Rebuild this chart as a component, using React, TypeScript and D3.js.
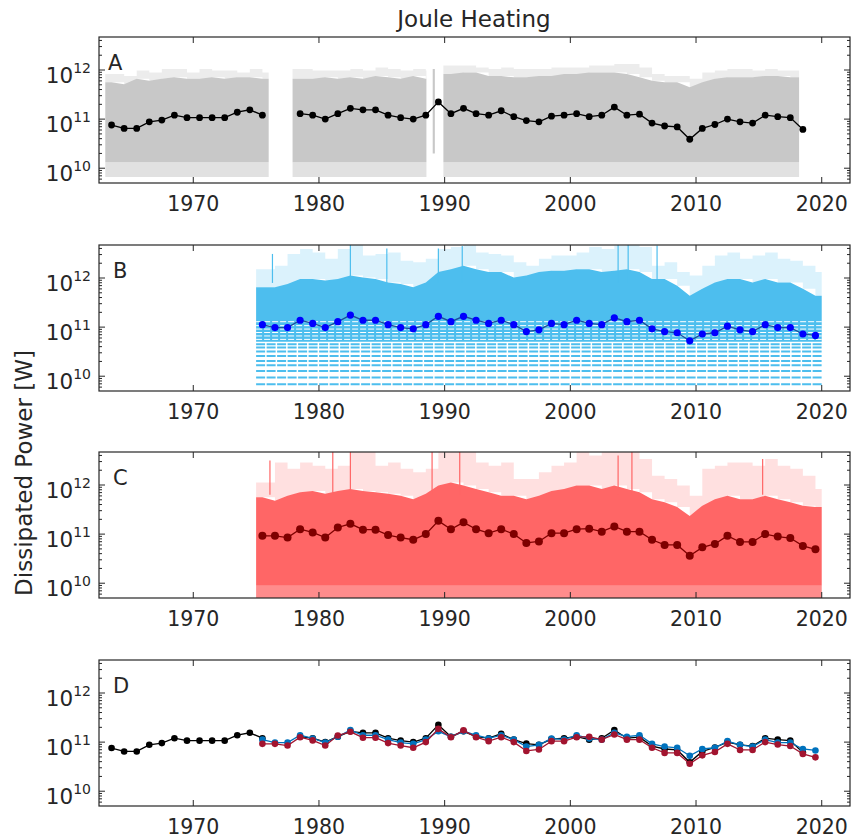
import React from 'react';
import * as d3 from 'd3';

// ---------- text ----------
const TITLE = 'Joule Heating';
const Y_LABEL = 'Dissipated Power [W]';
const PANEL_LETTERS = ['A', 'B', 'C', 'D'];
const X_TICKS = [1970, 1980, 1990, 2000, 2010, 2020];
const Y_TICK_EXPONENTS = [10, 11, 12];

// ---------- annual means (log10 of W) ----------
const yearsA = [1963, 1964, 1965, 1966, 1967, 1968, 1969, 1970, 1971, 1972, 1973, 1974, 1975,
  1978, 1979, 1980, 1981, 1982, 1983, 1984, 1985, 1986, 1987, 1988, 1989, 1990, 1991, 1992, 1993,
  1994, 1995, 1996, 1997, 1998, 1999, 2000, 2001, 2002, 2003, 2004, 2005, 2006, 2007, 2008, 2009,
  2010, 2011, 2012, 2013, 2014, 2015, 2016, 2017, 2018];
const logMeanA = [10.88, 10.81, 10.81, 10.945, 10.98, 11.08, 11.03, 11.03, 11.03, 11.03, 11.14, 11.19, 11.08,
  11.11, 11.08, 11.0, 11.11, 11.22, 11.19, 11.19, 11.08, 11.03, 11.0, 11.08, 11.35, 11.11, 11.22, 11.11, 11.08,
  11.17, 11.05, 10.97, 10.945, 11.06, 11.08, 11.11, 11.05, 11.08, 11.245, 11.08, 11.1, 10.92, 10.86, 10.84, 10.59,
  10.81, 10.89, 11.0, 10.945, 10.92, 11.08, 11.05, 11.03, 10.79];

const yearsBC = [1975, 1976, 1977, 1978, 1979, 1980, 1981, 1982, 1983, 1984, 1985, 1986, 1987, 1988, 1989,
  1990, 1991, 1992, 1993, 1994, 1995, 1996, 1997, 1998, 1999, 2000, 2001, 2002, 2003, 2004, 2005, 2006,
  2007, 2008, 2009, 2010, 2011, 2012, 2013, 2014, 2015, 2016, 2017, 2018, 2019];
const logMeanB = [11.05, 10.99, 10.99, 11.14, 11.075, 10.99, 11.11, 11.245, 11.14, 11.14, 11.05, 10.99, 10.965, 11.05, 11.22,
  11.11, 11.22, 11.14, 11.075, 11.14, 11.05, 10.91, 10.945, 11.075, 11.05, 11.14, 11.075, 11.05, 11.19, 11.11, 11.14, 10.965,
  10.91, 10.885, 10.72, 10.86, 10.885, 11.02, 10.945, 10.91, 11.05, 10.99, 10.99, 10.86, 10.83];
const logMeanC = [10.965, 10.965, 10.93, 11.1, 11.035, 10.93, 11.135, 11.21, 11.09, 11.09, 10.98, 10.93, 10.885, 11.0, 11.27,
  11.1, 11.24, 11.1, 11.02, 11.1, 11.0, 10.82, 10.85, 11.02, 11.02, 11.1, 11.11, 11.05, 11.155, 11.05, 11.05, 10.885,
  10.78, 10.78, 10.56, 10.73, 10.8, 10.965, 10.84, 10.84, 11.0, 10.95, 10.92, 10.76, 10.69];

// ---------- hourly clouds: yearly envelopes (log10 of W) ----------
const cloudYearsA = [1963, 1964, 1965, 1966, 1967, 1968, 1969, 1970, 1971, 1972, 1973, 1974, 1975,
  1978, 1979, 1980, 1981, 1982, 1983, 1984, 1985, 1986, 1987, 1988,
  1990, 1991, 1992, 1993, 1994, 1995, 1996, 1997, 1998, 1999, 2000, 2001, 2002, 2003, 2004, 2005, 2006,
  2007, 2008, 2009, 2010, 2011, 2012, 2013, 2014, 2015, 2016, 2017];
const cloudTopA = [11.75, 11.71, 11.82, 11.78, 11.82, 11.85, 11.82, 11.82, 11.85, 11.82, 11.85, 11.85, 11.82,
  11.82, 11.82, 11.85, 11.82, 11.85, 11.82, 11.88, 11.85, 11.82, 11.88, 11.82,
  11.92, 11.95, 11.95, 11.88, 11.88, 11.85, 11.85, 11.88, 11.88, 11.92, 11.92, 11.95, 11.95, 11.95, 11.92, 11.85, 11.78,
  11.75, 11.75, 11.65, 11.75, 11.82, 11.85, 11.85, 11.85, 11.88, 11.88, 11.85];
const cloudMaxA = [11.92, 11.88, 11.99, 11.95, 12.02, 12.02, 11.95, 12.02, 11.99, 11.99, 11.95, 12.02, 11.95,
  12.02, 11.99, 11.99, 11.99, 12.02, 11.99, 12.05, 12.02, 11.99, 12.02, 11.99,
  12.09, 12.09, 12.05, 12.02, 12.05, 12.02, 12.02, 12.02, 12.05, 12.05, 12.05, 12.09, 12.09, 12.12, 12.12, 12.05, 11.92,
  11.88, 11.88, 11.82, 11.95, 11.99, 12.02, 12.02, 11.99, 12.02, 11.99, 11.99];
const cloudSegmentsA = [[1963.0, 1976.0], [1977.9, 1988.55], [1989.9, 2018.2]];
const cloudSpikeA = [1989.05, 1989.22, 10.3, 12.02];
const cloudFloorA = [10.12, 9.82];

const cloudTopB = [11.81, 11.81, 11.88, 11.98, 11.98, 11.95, 11.98, 12.05, 12.01, 11.98, 11.91, 11.88, 11.81, 11.91, 12.12,
  12.18, 12.25, 12.18, 12.12, 12.12, 12.01, 12.05, 12.12, 12.15, 12.15, 12.18, 12.18, 12.12, 12.15, 12.18, 12.12, 11.98,
  11.98, 11.84, 11.64, 11.78, 11.91, 11.98, 11.98, 11.91, 11.98, 11.91, 11.91, 11.78, 11.64];
const cloudMaxB = [12.18, 12.25, 12.49, 12.59, 12.52, 12.39, 12.59, 12.69, 12.46, 12.49, 12.52, 12.35, 12.32, 12.39, 12.59,
  12.63, 12.69, 12.52, 12.49, 12.46, 12.32, 12.25, 12.39, 12.46, 12.46, 12.52, 12.63, 12.59, 12.66, 12.69, 12.63, 12.25,
  12.32, 12.12, 12.05, 12.25, 12.46, 12.52, 12.39, 12.46, 12.52, 12.39, 12.35, 12.25, 12.12];
const cloudTopC = [11.75, 11.68, 11.78, 11.85, 11.88, 11.82, 11.88, 11.92, 11.88, 11.85, 11.82, 11.78, 11.71, 11.82, 11.99,
  12.05, 11.99, 11.92, 11.85, 11.78, 11.78, 11.71, 11.78, 11.88, 11.92, 11.99, 11.99, 11.92, 11.99, 11.92, 11.85, 11.71,
  11.65, 11.55, 11.37, 11.58, 11.71, 11.78, 11.71, 11.71, 11.78, 11.71, 11.65, 11.58, 11.55];
const cloudMaxC = [12.05, 12.46, 12.33, 12.46, 12.39, 12.33, 12.39, 12.67, 12.67, 12.39, 12.46, 12.33, 12.26, 12.33, 12.67,
  12.67, 12.67, 12.46, 12.39, 12.46, 12.12, 12.12, 12.26, 12.39, 12.46, 12.67, 12.6, 12.67, 12.67, 12.67, 12.53, 12.19,
  12.12, 11.99, 11.78, 12.33, 12.39, 12.46, 12.46, 12.39, 12.53, 12.39, 12.33, 12.19, 11.92];
const cloudSegmentBC = [1975.0, 2020.0];
const cloudFloorB = 10.7;
const cloudFloorC = [9.95, 9.7];
const quantLevelsB = [10.653, 10.586, 10.504, 10.414, 10.312, 10.224, 10.108, 9.973, 9.837];
const gapLevelsB = [11.11, 11.03, 10.96, 10.89, 10.82, 10.75];
const spikesB = [[1976.3, 12.49], [1982.5, 12.7], [1985.4, 12.6], [1989.5, 12.6], [1991.4, 12.65], [2003.8, 12.7], [2004.6, 12.69], [2006.9, 12.66]];
const spikesC = [[1976.1, 12.5], [1981.1, 12.67], [1982.5, 12.67], [1989.0, 12.67], [1991.2, 12.67], [2003.8, 12.6], [2004.9, 12.67], [2015.3, 12.53]];

// ---------- layout ----------
const W = 854, H = 839;
const LEFT = 99, RIGHT = 850, PANEL_H = 146;
const PANEL_TOP = [37, 245, 452, 660];
const X_DOMAIN = [1962.5, 2022.25];
const Y_DOMAIN = [5e9, 4.7e12];
const INK = '#262626';
const FONT = 'DejaVu Sans, sans-serif';

const x = d3.scaleLinear().domain(X_DOMAIN).range([LEFT, RIGHT]);
const yFor = (top: number) => d3.scaleLog().domain(Y_DOMAIN).range([top + PANEL_H, top]);
const p10 = (e: number) => Math.pow(10, e);

type Pt = { t: number; lo: number; hi: number };
function segPoints(years: number[], lo: (i: number) => number, hi: (i: number) => number, seg: number[]): Pt[] {
  const pts: Pt[] = [];
  years.forEach((yr, i) => {
    const t = yr + 0.5;
    if (t > seg[0] && t < seg[1]) pts.push({ t, lo: lo(i), hi: hi(i) });
  });
  if (!pts.length) return pts;
  return [{ ...pts[0], t: seg[0] }, ...pts, { ...pts[pts.length - 1], t: seg[1] }];
}

function runs(years: number[], vals: number[]) {
  const out: { t: number; v: number }[][] = [];
  let cur: { t: number; v: number }[] = [];
  years.forEach((yr, i) => {
    if (cur.length && yr - years[i - 1] > 1) { out.push(cur); cur = []; }
    cur.push({ t: yr + 0.5, v: vals[i] });
  });
  if (cur.length) out.push(cur);
  return out;
}

function Series({ y, years, vals, color, lineColor, r, width = 1.3 }: any) {
  const line = d3.line<{ t: number; v: number }>().x(d => x(d.t)).y(d => y(p10(d.v)));
  return (
    <g>
      {runs(years, vals).map((run, i) => (
        <path key={i} d={line(run) || ''} fill="none" stroke={lineColor} strokeWidth={width} />
      ))}
      {years.map((yr: number, i: number) => (
        <circle key={yr} cx={x(yr + 0.5)} cy={y(p10(vals[i]))} r={r} fill={color} />
      ))}
    </g>
  );
}

function Cloud({ y, years, top, max, segs, floor, color, floorMin, sparse = 0.25, lowerOpacity = 0.6 }: any) {
  const area = d3.area<Pt>().x(d => x(d.t)).y0(d => y(p10(d.lo))).y1(d => y(p10(d.hi)));
  const out: any[] = [];
  segs.forEach((seg: number[], k: number) => {
    const dense = segPoints(years, () => floor, i => top[i], seg);
    const upper = segPoints(years, i => top[i], i => max[i], seg);
    out.push(<path key={'u' + k} d={area.curve(d3.curveStepAfter)(upper) || ''} fill={color} opacity={sparse} />);
    if (floorMin !== undefined) {
      const lower = segPoints(years, () => floorMin, () => floor, seg);
      out.push(<path key={'l' + k} d={area.curve(d3.curveLinear)(lower) || ''} fill={color} opacity={lowerOpacity} />);
    }
    out.push(<path key={'d' + k} d={area.curve(d3.curveLinear)(dense) || ''} fill={color} />);
  });
  return <g>{out}</g>;
}

function Axes({ top, letter }: { top: number; letter: string }) {
  const y = yFor(top);
  const bottom = top + PANEL_H;
  const minor: number[] = [];
  for (let e = 9; e <= 12; e++) for (let m = 2; m <= 9; m++) {
    const v = m * p10(e);
    if (v > Y_DOMAIN[0] && v < Y_DOMAIN[1]) minor.push(v);
  }
  return (
    <g stroke={INK} strokeWidth={1}>
      <rect x={LEFT} y={top} width={RIGHT - LEFT} height={PANEL_H} fill="none" strokeWidth={1.2} />
      {X_TICKS.map(t => (
        <g key={t}>
          <line x1={x(t)} x2={x(t)} y1={bottom} y2={bottom - 6} />
          <line x1={x(t)} x2={x(t)} y1={top} y2={top + 6} />
          <text x={x(t)} y={bottom + 28} textAnchor="middle" fill={INK} stroke="none" fontSize={20.5} fontFamily={FONT}>{t}</text>
        </g>
      ))}
      {Y_TICK_EXPONENTS.map(e => (
        <g key={e}>
          <line x1={LEFT} x2={LEFT + 6} y1={y(p10(e))} y2={y(p10(e))} />
          <line x1={RIGHT} x2={RIGHT - 6} y1={y(p10(e))} y2={y(p10(e))} />
          <text x={91} y={y(p10(e)) + 13} textAnchor="end" fill={INK} stroke="none" fontFamily={FONT} fontSize={21.5}>
            10<tspan dy={-10.5} fontSize={14}>{e}</tspan>
          </text>
        </g>
      ))}
      {minor.map(v => (
        <g key={v}>
          <line x1={LEFT} x2={LEFT + 3} y1={y(v)} y2={y(v)} />
          <line x1={RIGHT} x2={RIGHT - 3} y1={y(v)} y2={y(v)} />
        </g>
      ))}
      <text x={letter === 'A' ? 108 : 113} y={top + 33} fill={INK} stroke="none" fontFamily={FONT} fontSize={21}>{letter}</text>
    </g>
  );
}

export default function App() {
  const yA = yFor(PANEL_TOP[0]);
  const yB = yFor(PANEL_TOP[1]);
  const yC = yFor(PANEL_TOP[2]);
  const yD = yFor(PANEL_TOP[3]);
  const xs = x(cloudSegmentBC[0]), xe = x(cloudSegmentBC[1]);
  return (
    <svg width={W} height={H} style={{ position: 'absolute', left: 0, top: 0, display: 'block', background: '#fff' }}>
      <defs>
        {PANEL_TOP.map((t, i) => (
          <clipPath key={i} id={'clip' + i}><rect x={LEFT} y={t} width={RIGHT - LEFT} height={PANEL_H} /></clipPath>
        ))}
      </defs>
      <text x={474} y={26.5} textAnchor="middle" fontFamily={FONT} fontSize={23} fill={INK}>{TITLE}</text>
      <text transform="translate(32,473) rotate(-90)" textAnchor="middle" fontFamily={FONT} fontSize={23} fill={INK}>{Y_LABEL}</text>

      {/* Panel A */}
      <g clipPath="url(#clip0)">
        <Cloud y={yA} years={cloudYearsA} top={cloudTopA} max={cloudMaxA} segs={cloudSegmentsA}
          floor={cloudFloorA[0]} floorMin={cloudFloorA[1]} color="#c8c8c8" sparse={0.35} lowerOpacity={0.55} />
        <rect x={x(cloudSpikeA[0])} width={x(cloudSpikeA[1]) - x(cloudSpikeA[0])}
          y={yA(p10(cloudSpikeA[3]))} height={yA(p10(cloudSpikeA[2])) - yA(p10(cloudSpikeA[3]))} fill="#c8c8c8" />
        <Series y={yA} years={yearsA} vals={logMeanA} color="#000" lineColor="#000" r={3.4} />
      </g>

      {/* Panel B */}
      <g clipPath="url(#clip1)">
        <Cloud y={yB} years={yearsBC} top={cloudTopB} max={cloudMaxB} segs={[cloudSegmentBC]}
          floor={cloudFloorB} color="#4dbeee" sparse={0.2} />
        {spikesB.map((s, i) => (
          <line key={i} x1={x(s[0])} x2={x(s[0])} y1={yB(p10(s[1]))} y2={yB(p10(11.9))} stroke="#4dbeee" strokeWidth={1.2} />
        ))}
        {gapLevelsB.map(l => (
          <line key={l} x1={xs} x2={xe} y1={yB(p10(l))} y2={yB(p10(l))} stroke="#fff" strokeWidth={1} strokeDasharray="6 2" />
        ))}
        {quantLevelsB.map(l => (
          <line key={l} x1={xs} x2={xe} y1={yB(p10(l))} y2={yB(p10(l))} stroke="#4dbeee" strokeWidth={2} strokeDasharray="9 1.5" />
        ))}
        <Series y={yB} years={yearsBC} vals={logMeanB} color="#0000ff" lineColor="#1d4e9a" r={3.6} />
      </g>

      {/* Panel C */}
      <g clipPath="url(#clip2)">
        <Cloud y={yC} years={yearsBC} top={cloudTopC} max={cloudMaxC} segs={[cloudSegmentBC]}
          floor={cloudFloorC[0]} floorMin={cloudFloorC[1]} color="#ff6666" sparse={0.2} lowerOpacity={0.75} />
        {spikesC.map((s, i) => (
          <line key={i} x1={x(s[0])} x2={x(s[0])} y1={yC(p10(s[1]))} y2={yC(p10(11.8))} stroke="#ff6666" strokeWidth={1.2} />
        ))}
        <Series y={yC} years={yearsBC} vals={logMeanC} color="#7f0000" lineColor="#7f0000" r={4} />
      </g>

      {/* Panel D */}
      <g clipPath="url(#clip3)">
        <Series y={yD} years={yearsA} vals={logMeanA} color="#000" lineColor="#000" r={3.3} />
        <Series y={yD} years={yearsBC} vals={logMeanB} color="#0072bd" lineColor="#0072bd" r={3.3} />
        <Series y={yD} years={yearsBC} vals={logMeanC} color="#a2142f" lineColor="#a2142f" r={3.3} />
      </g>

      {PANEL_TOP.map((t, i) => <Axes key={i} top={t} letter={PANEL_LETTERS[i]} />)}
    </svg>
  );
}
